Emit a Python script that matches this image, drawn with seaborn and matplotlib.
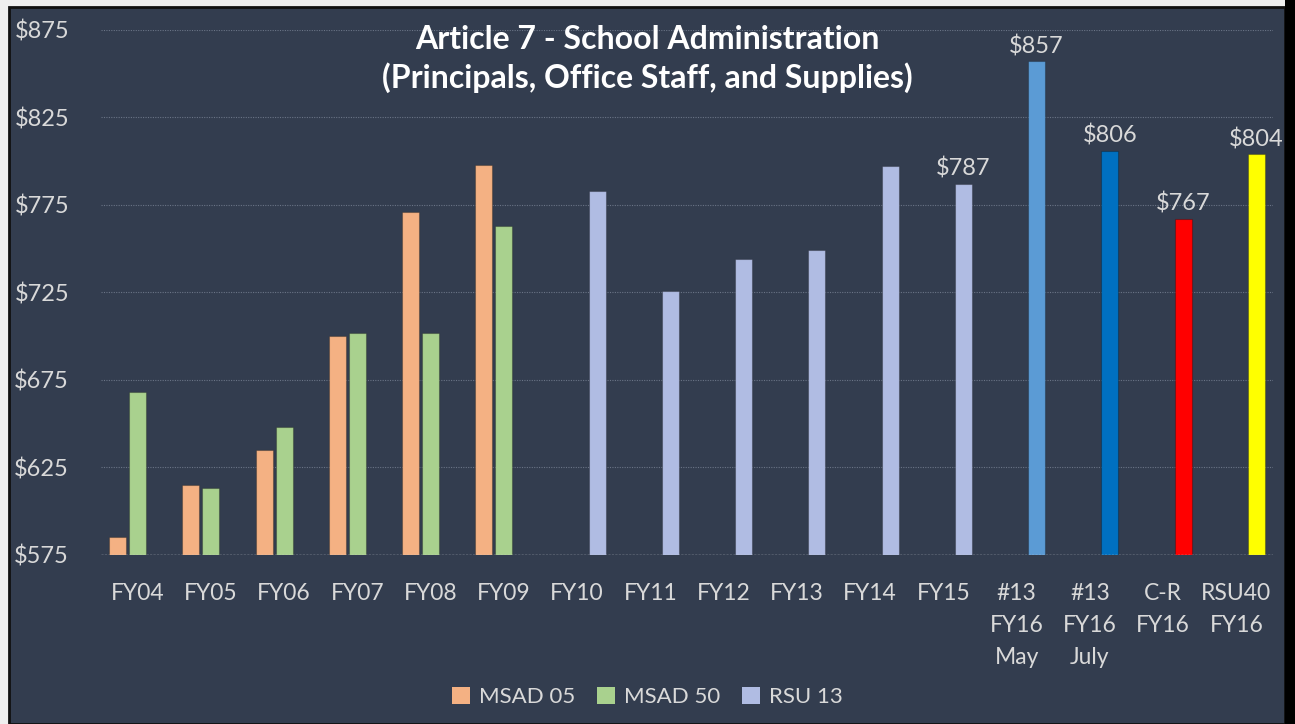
import matplotlib
matplotlib.use("Agg")
import matplotlib.pyplot as plt
from matplotlib.patches import Rectangle, Patch
import seaborn as sns
import pandas as pd

# ---- data ----
categories = ["FY04", "FY05", "FY06", "FY07", "FY08", "FY09", "FY10", "FY11",
              "FY12", "FY13", "FY14", "FY15",
              "#13\nFY16\nMay", "#13\nFY16\nJuly", "C-R\nFY16", "RSU40\nFY16"]
msad05_cats = ["FY04", "FY05", "FY06", "FY07", "FY08", "FY09"]
msad05_vals = [585, 615, 635, 700, 771, 798]
msad50_cats = ["FY04", "FY05", "FY06", "FY07", "FY08", "FY09"]
msad50_vals = [668, 613, 648, 702, 702, 763]
rsu13_cats = ["FY10", "FY11", "FY12", "FY13", "FY14", "FY15"]
rsu13_vals = [783, 726, 744, 749, 797, 787]
fy16_cats = ["#13\nFY16\nMay", "#13\nFY16\nJuly", "C-R\nFY16", "RSU40\nFY16"]
fy16_vals = [857, 806, 767, 804]
series = ["MSAD 05", "MSAD 50", "RSU 13"]
y_ticks = [575, 625, 675, 725, 775, 825, 875]

# ---- style ----
BG = "#333D4F"
TXT = "#D9D9D9"
series_colors = {"MSAD 05": "#F4B183", "MSAD 50": "#A9D18E", "RSU 13": "#B0BCE3"}
fy16_colors = ["#5B9BD5", "#0070C0", "#FF0000", "#FFFF00"]
FONT = ["Lato", "DejaVu Sans"]

rows = []
for c, v in zip(msad05_cats, msad05_vals):
    rows.append((c, v, "MSAD 05"))
for c, v in zip(msad50_cats, msad50_vals):
    rows.append((c, v, "MSAD 50"))
for c, v in zip(rsu13_cats, rsu13_vals):
    rows.append((c, v, "RSU 13"))
for c, v in zip(fy16_cats, fy16_vals):
    rows.append((c, v, "RSU 13"))
df = pd.DataFrame(rows, columns=["category", "value", "series"])

sns.set_theme(style="dark")
plt.rcParams["font.family"] = FONT

fig = plt.figure(figsize=(12.95, 7.24), dpi=100, facecolor="#EFEFEF")
# chart frame
fig.patches.append(Rectangle((9 / 1295, 0), (1285 - 9) / 1295, 1 - 7 / 724,
                             transform=fig.transFigure, facecolor=BG,
                             edgecolor="#111111", linewidth=2, zorder=-2))
fig.patches.append(Rectangle((1285 / 1295, 0), 10 / 1295, 1,
                             transform=fig.transFigure, facecolor="#000000",
                             edgecolor="none", zorder=-2))

ax = fig.add_axes([101 / 1295, 1 - 555 / 724, (1273 - 101) / 1295, (555 - 30) / 724])
ax.set_facecolor("none")
ax.patch.set_alpha(0)

sns.barplot(data=df, x="category", y="value", hue="series", order=categories,
            hue_order=series, palette=series_colors, width=0.82, gap=0.15,
            dodge=True, legend=False, ax=ax, saturation=1, errorbar=None)

fy16_idx = {categories.index(c): col for c, col in zip(fy16_cats, fy16_colors)}
for p in ax.patches:
    cx = p.get_x() + p.get_width() / 2
    h = p.get_height()
    if h != h or h == 0:
        continue
    cat_i = int(round(cx))
    if cat_i in fy16_idx and cx > cat_i:
        p.set_facecolor(fy16_idx[cat_i])
    p.set_edgecolor((0, 0, 0, 0.25))
    p.set_linewidth(0.8)
    if cx > 10.9:
        ax.annotate(f"${h:.0f}", (cx, h), xytext=(0, 3), textcoords="offset points",
                    ha="center", va="bottom", color=TXT, fontsize=17)

ax.set_ylim(575, 875)
ax.set_xlim(-0.5, len(categories) - 0.5)
ax.set_yticks(y_ticks)
ax.set_yticklabels([f"${t}" for t in y_ticks])
ax.set_xlabel("")
ax.set_ylabel("")
ax.tick_params(axis="y", colors=TXT, labelsize=17, length=0, pad=23)
ax.tick_params(axis="x", colors=TXT, labelsize=16.5, length=0, pad=20)
for lab in ax.get_xticklabels():
    lab.set_linespacing(1.65)

ax.yaxis.grid(True, color="#6A7486", linestyle=(0, (1, 1.2)), linewidth=0.8)
ax.xaxis.grid(False)
ax.set_axisbelow(True)
for s in ax.spines.values():
    s.set_visible(False)
ax.axhline(575, color="#C8CCD2", linestyle=(0, (1.5, 1)), linewidth=1.0, zorder=3)

fig.text(0.5, 1 - 59 / 724,
         "Article 7 - School Administration\n(Principals, Office Staff, and Supplies)",
         ha="center", va="center", color="white", fontsize=23, fontweight="bold",
         linespacing=1.3)

handles = [Patch(facecolor=series_colors[s], edgecolor="none", label=s) for s in series]
leg = fig.legend(handles=handles, loc="center", bbox_to_anchor=(0.5, 1 - 697 / 724),
                 ncol=3, frameon=False, fontsize=16, handlelength=0.8,
                 handleheight=0.8, handletextpad=0.4, columnspacing=1.0)
for t in leg.get_texts():
    t.set_color(TXT)

fig.savefig("out.png", dpi=100, facecolor=fig.get_facecolor())
